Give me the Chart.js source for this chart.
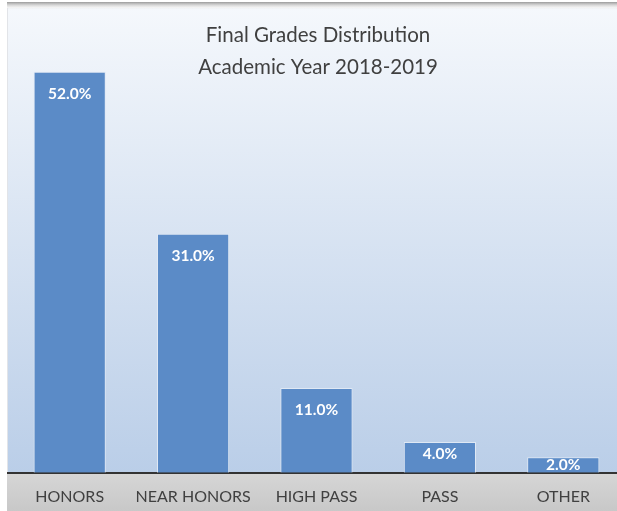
<!DOCTYPE html>
<html>
<head>
<meta charset="utf-8">
<script src="https://cdn.jsdelivr.net/npm/chart.js@4.4.0/dist/chart.umd.min.js"></script>
<style>
  html, body { margin: 0; padding: 0; background: #fff; }
  #wrap { width: 617px; height: 511px; overflow: hidden; }
  canvas { display: block; }
</style>
</head>
<body>
<div id="wrap"><canvas id="myChart" width="626" height="520"></canvas></div>
<script>
'use strict';

var titleLines = ['Final Grades Distribution', 'Academic Year 2018-2019'];
var categories = ['HONORS', 'NEAR HONORS', 'HIGH PASS', 'PASS', 'OTHER'];
var shares = [52.0, 31.0, 11.0, 4.0, 2.0];
var fontFamily = 'Lato, "Open Sans", sans-serif';

// panel background, top shading and grey label band
var panelPlugin = {
  id: 'panel',
  beforeDraw: function(chart) {
    var c = chart.ctx;
    var area = chart.chartArea;
    var w = chart.width;
    c.save();
    var g = c.createLinearGradient(0, 8, 0, area.bottom);
    g.addColorStop(0, '#f5f8fc');
    g.addColorStop(1, '#bacee8');
    c.fillStyle = g;
    c.fillRect(7, 8, w - 7, area.bottom - 8);
    var t = c.createLinearGradient(0, 2, 0, 10);
    t.addColorStop(0, '#9a9a9a');
    t.addColorStop(1, 'rgba(240,240,240,0)');
    c.fillStyle = t;
    c.fillRect(7, 2, w - 7, 8);
    c.fillStyle = '#e2e4e8';
    c.fillRect(7, 8, 1, area.bottom - 8);
    var b = c.createLinearGradient(0, area.bottom, 0, 511);
    b.addColorStop(0, '#d6d6d6');
    b.addColorStop(1, '#c8c8c8');
    c.fillStyle = b;
    c.fillRect(7, area.bottom, w - 7, chart.height - area.bottom);
    c.restore();
  },
  afterDraw: function(chart) {
    var c = chart.ctx;
    c.save();
    c.fillStyle = '#404040';
    c.font = '20.5px ' + fontFamily;
    c.textAlign = 'center';
    c.textBaseline = 'middle';
    c.fillText(titleLines[0], 318, 35);
    c.fillText(titleLines[1], 318, 67);
    c.restore();
  }
};

// percentage labels inside the top of each bar
var valueLabels = {
  id: 'valueLabels',
  afterDatasetsDraw: function(chart) {
    var c = chart.ctx;
    var meta = chart.getDatasetMeta(0);
    c.save();
    c.fillStyle = '#ffffff';
    c.font = 'bold 15.5px ' + fontFamily;
    c.textAlign = 'center';
    c.textBaseline = 'middle';
    meta.data.forEach(function(bar, i) {
      var h = bar.base - bar.y;
      var off = h > 60 ? 22 : Math.max(8, h * 0.38);
      c.fillText(shares[i].toFixed(1) + '%', bar.x, bar.y + off);
    });
    c.restore();
  }
};

var ctx = document.getElementById('myChart');
var myChart = new Chart(ctx, {
  type: 'bar',
  data: {
    labels: categories,
    datasets: [{
      data: shares,
      backgroundColor: '#5b8bc7',
      borderColor: '#dfe8f4',
      borderWidth: 1,
      barPercentage: 0.585,
      categoryPercentage: 1.0
    }]
  },
  options: {
    responsive: false,
    animation: false,
    layout: { padding: { top: 10, left: 8, right: 1, bottom: 0 } },
    plugins: {
      legend: { display: false },
      title: { display: false },
      tooltip: { enabled: false }
    },
    scales: {
      x: {
        grid: { display: false, drawTicks: false },
        border: { display: true, color: '#333333', width: 2 },
        ticks: {
          color: '#404040',
          font: { family: fontFamily, size: 16 },
          padding: 14,
          maxRotation: 0
        }
      },
      y: {
        display: false,
        min: 0,
        max: 60
      }
    }
  },
  plugins: [panelPlugin, valueLabels]
});
</script>
</body>
</html>
